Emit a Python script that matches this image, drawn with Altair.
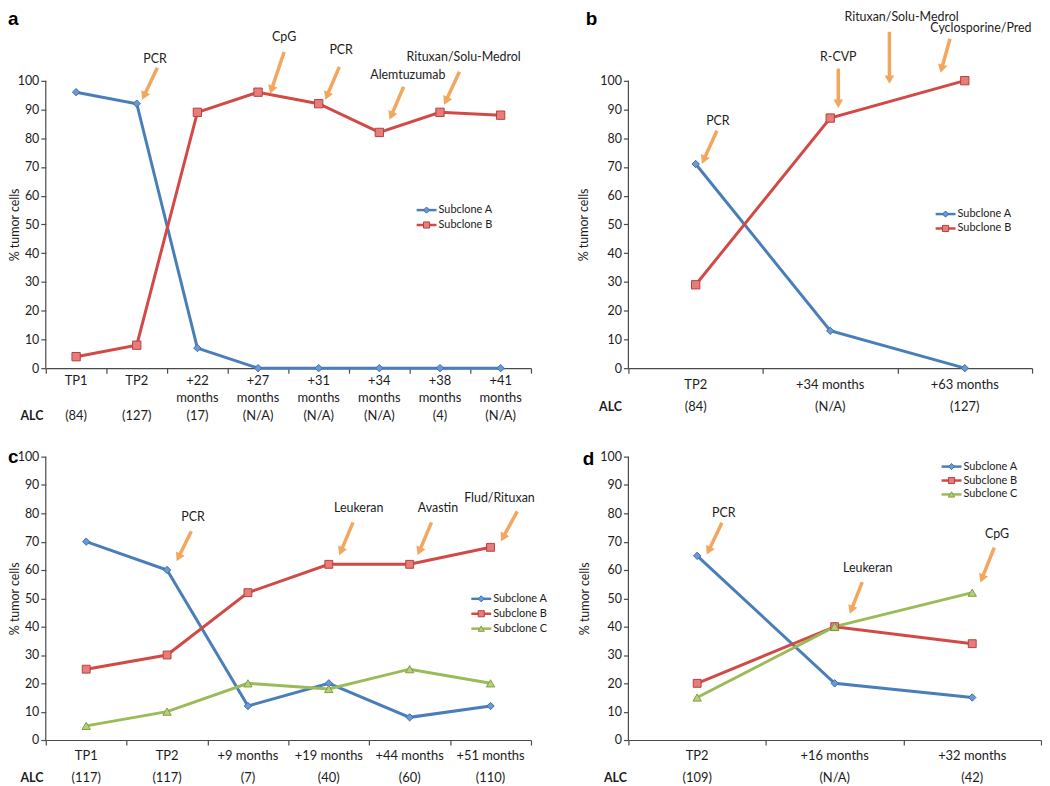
import math
import altair as alt
import pandas as pd

# ---------------- data ----------------
SERIES_NAMES = ["Subclone A", "Subclone B", "Subclone C"]

A_TIMEPOINTS = ["TP1", "TP2", "+22 months", "+27 months", "+31 months", "+34 months", "+38 months", "+41 months"]
A_ALC = ["(84)", "(127)", "(17)", "(N/A)", "(N/A)", "(N/A)", "(4)", "(N/A)"]
A_SUBCLONE_A = [96, 92, 7, 0, 0, 0, 0, 0]
A_SUBCLONE_B = [4, 8, 89, 96, 92, 82, 89, 88]
A_TREATMENTS = ["PCR", "CpG", "PCR", "Alemtuzumab", "Rituxan/Solu-Medrol"]

B_TIMEPOINTS = ["TP2", "+34 months", "+63 months"]
B_ALC = ["(84)", "(N/A)", "(127)"]
B_SUBCLONE_A = [71, 13, 0]
B_SUBCLONE_B = [29, 87, 100]
B_TREATMENTS = ["PCR", "R-CVP", "Rituxan/Solu-Medrol", "Cyclosporine/Pred"]

C_TIMEPOINTS = ["TP1", "TP2", "+9 months", "+19 months", "+44 months", "+51 months"]
C_ALC = ["(117)", "(117)", "(7)", "(40)", "(60)", "(110)"]
C_SUBCLONE_A = [70, 60, 12, 20, 8, 12]
C_SUBCLONE_B = [25, 30, 52, 62, 62, 68]
C_SUBCLONE_C = [5, 10, 20, 18, 25, 20]
C_TREATMENTS = ["PCR", "Leukeran", "Avastin", "Flud/Rituxan"]

D_TIMEPOINTS = ["TP2", "+16 months", "+32 months"]
D_ALC = ["(109)", "(N/A)", "(42)"]
D_SUBCLONE_A = [65, 20, 15]
D_SUBCLONE_B = [20, 40, 34]
D_SUBCLONE_C = [15, 40, 52]
D_TREATMENTS = ["PCR", "Leukeran", "CpG"]

# ---------------- annotation layout (label pos, arrow tail, arrow tip) ----------------
A_ANNOT_POS = [(1.80, 107.6, 1.84, 104.5, 1.59, 93.4),
               (3.93, 115.2, 3.93, 110.0, 3.70, 95.5),
               (4.87, 110.7, 4.84, 104.8, 4.61, 93.4),
               (5.97, 102.1, 5.90, 97.9, 5.67, 86.5),
               (6.89, 108.3, 6.82, 103.1, 6.57, 91.7)]
B_ANNOT_POS = [(0.665, 85.8, 0.658, 82.6, 0.547, 71.2),
               (1.56, 108.3, 1.56, 104.2, 1.56, 90.6),
               (2.03, 122.0, 1.94, 117.0, 1.94, 99.0),
               (2.62, 118.4, 2.39, 114.6, 2.32, 102.8)]
C_ANNOT_POS = [(1.82, 78.6, 1.80, 73.7, 1.62, 63.2),
               (3.87, 81.8, 3.80, 76.8, 3.63, 65.3),
               (4.85, 81.8, 4.77, 76.8, 4.60, 65.3),
               (5.61, 85.3, 5.83, 80.7, 5.63, 70.2)]
D_ANNOT_POS = [(0.694, 80.1, 0.68, 76.7, 0.571, 65.5),
               (1.74, 60.6, 1.70, 55.7, 1.61, 44.6),
               (2.68, 72.8, 2.66, 67.9, 2.56, 55.7)]

# ---------------- styles ----------------
FONT = "Lato"
TEXT = "#1c1c1c"
AXIS = "#4a4a4a"
ARROW = "#F3A65E"
LINE_COLORS = ["#4A7EBB", "#D24A46", "#9BBB59"]
FILL_COLORS = ["#6A9AD6", "#E67D7A", "#B5D07A"]
EDGE_COLORS = ["#3E6CA6", "#B8403D", "#7F9E42"]
SHAPES = ["diamond", "square", "triangle-up"]
SIZES = [55, 70, 75]


def make_panel(letter, cats, alc, series_vals, treatments, ann_pos, P):
    n = len(cats)
    k = len(series_vals)
    names = SERIES_NAMES[:k]
    recs = []
    for name, vals in zip(names, series_vals):
        for i, v in enumerate(vals):
            recs.append({"series": name, "subclone": name, "x": i + 0.5, "value": v})
    df = pd.DataFrame(recs)

    lab = pd.DataFrame({"x": [i + 0.5 for i in range(n)], "label": cats, "alc": alc, "zero": [0] * n})

    band = P["width"] / n
    ppu = P["height"] / P["ytop"]
    arecs = []
    for t, (tx, ty, x1, y1, x2, y2) in zip(treatments, ann_pos):
        dxp = (x2 - x1) * band
        dyp = -(y2 - y1) * ppu
        L = math.hypot(dxp, dyp)
        ux, uy = dxp / L, dyp / L
        back = 4.0
        hx = x2 - ux * back / band
        hy = y2 + uy * back / ppu
        ang = math.degrees(math.atan2(ux, -uy)) % 360
        arecs.append(dict(text=t, tx=tx, ty=ty, x1=x1, y1=y1, hx=hx, hy=hy, angle=ang))
    ann = pd.DataFrame(arecs)

    # legend rows: one per series, placed from the panel's legend anchor (pixels -> data units)
    cx, cy, step = P["legend"]
    lrecs = []
    for r, name in enumerate(names):
        yv = P["ytop"] - (cy + r * step) / ppu
        lrecs.append(dict(series=name, subclone=name, lx1=(cx - 10) / band, lx2=(cx + 10) / band,
                          lxm=cx / band, ltx=(cx + 12) / band, ly=yv))
    leg = pd.DataFrame(lrecs)

    frame = pd.DataFrame({"x0": [0], "y0": [0], "y100": [100], "ytop": [P["ytop"]],
                          "letter": [letter], "head": ["ALC"]})

    xscale = alt.Scale(domain=[0, n], nice=False, zero=False)
    yscale = alt.Scale(domain=[0, P["ytop"]], nice=False, zero=False)
    xaxis = alt.Axis(values=list(range(n + 1)), labels=False, title=None, grid=False,
                     tickSize=5, domainColor=AXIS, tickColor=AXIS, domainWidth=1.2, tickWidth=1.2)
    yaxis = alt.Axis(values=list(range(0, 101, 10)), grid=False, domain=False, tickSize=5,
                     tickColor=AXIS, tickWidth=1.2, labelFont=FONT, labelFontSize=12.5, labelColor=TEXT,
                     labelPadding=2, title="% tumor cells", titleFont=FONT, titleFontSize=12.5,
                     titleFontWeight="normal", titleColor=TEXT, titleX=P["titleX"], titleY=P["titleY"],
                     titleAngle=270, titleAlign="center", titleBaseline="middle")

    def X(f):
        return alt.X(f, type="quantitative", scale=xscale, axis=xaxis)

    def Y(f):
        return alt.Y(f, type="quantitative", scale=yscale, axis=yaxis)

    color = alt.Color("series:N", scale=alt.Scale(domain=names, range=LINE_COLORS[:k]), legend=None)
    fill = alt.Fill("subclone:N", scale=alt.Scale(domain=names, range=FILL_COLORS[:k]), legend=None)
    stroke = alt.Stroke("subclone:N", scale=alt.Scale(domain=names, range=EDGE_COLORS[:k]), legend=None)
    shape = alt.Shape("subclone:N", scale=alt.Scale(domain=names, range=SHAPES[:k]), legend=None)

    base = alt.Chart(df)
    line = base.mark_line(strokeWidth=3).encode(x=X("x"), y=Y("value"), color=color)
    pts = base.mark_point(filled=True, opacity=1, strokeWidth=1).encode(
        x=X("x"), y=Y("value"), fill=fill, stroke=stroke, shape=shape,
        size=alt.Size("subclone:N", scale=alt.Scale(domain=names, range=SIZES[:k]), legend=None),
    )

    lg = alt.Chart(leg)
    leg_line = lg.mark_rule(strokeWidth=2.5).encode(x=X("lx1"), x2="lx2:Q", y=Y("ly"), color=color)
    leg_pt = lg.mark_point(filled=True, opacity=1, strokeWidth=1, size=38).encode(
        x=X("lxm"), y=Y("ly"), fill=fill, stroke=stroke, shape=shape)
    leg_txt = lg.mark_text(font=FONT, fontSize=11, color=TEXT, align="left", baseline="middle").encode(
        x=X("ltx"), y=Y("ly"), text="series:N")

    achart = alt.Chart(ann)
    arrows = achart.mark_rule(strokeWidth=3.5, color=ARROW, strokeCap="butt").encode(
        x=X("x1"), y=Y("y1"), x2="hx:Q", y2="hy:Q")
    heads = achart.mark_point(shape="triangle-up", filled=True, size=95, color=ARROW, opacity=1).encode(
        x=X("hx"), y=Y("hy"), angle=alt.Angle("angle:Q", scale=None))
    atext = achart.mark_text(font=FONT, fontSize=12.5, color=TEXT, baseline="middle").encode(
        x=X("tx"), y=Y("ty"), text="text:N")

    lab_kw = dict(font=FONT, fontSize=13, color=TEXT, dy=P["label_dy"], baseline=P["label_baseline"])
    if P.get("lineBreak"):
        lab_kw.update(lineBreak=P["lineBreak"], lineHeight=17)
    lchart = alt.Chart(lab)
    xlabels = lchart.mark_text(**lab_kw).encode(x=X("x"), y=Y("zero"), text="label:N")
    alcvals = lchart.mark_text(font=FONT, fontSize=13, color=TEXT, dy=P["alc_dy"], baseline="middle").encode(
        x=X("x"), y=Y("zero"), text="alc:N")

    fchart = alt.Chart(frame)
    alchead = fchart.mark_text(font=FONT, fontSize=12.5, fontWeight="bold", color=TEXT,
                               dx=P["alc_dx"], dy=P["alc_dy"], baseline="middle").encode(
        x=X("x0"), y=Y("y0"), text="head:N")
    yrule = fchart.mark_rule(color=AXIS, strokeWidth=1.2).encode(x=X("x0"), y=Y("y0"), y2="y100:Q")
    letter_mark = fchart.mark_text(font="Liberation Sans", fontSize=19, fontWeight="bold", color="#000",
                                   align="left", baseline=P["letter_baseline"],
                                   dx=P["letter_dx"], dy=P["letter_dy"]).encode(
        x=X("x0"), y=Y(P["letter_field"]), text="letter:N")

    return alt.layer(line, pts, leg_line, leg_pt, leg_txt, arrows, heads, atext, yrule,
                     xlabels, alcvals, alchead, letter_mark).properties(width=P["width"], height=P["height"])


PA = dict(width=488, height=360, ytop=124.5, titleX=-31, titleY=215.4, legend=(383, 201, 15),
          label_dy=7, label_baseline="top", lineBreak=" ", alc_dy=48, alc_dx=-14,
          letter_baseline="top", letter_dx=-38, letter_dy=0, letter_field="ytop")
PB = dict(width=406, height=360, ytop=124.5, titleX=-45, titleY=215.4, legend=(319, 205, 14.5),
          label_dy=17, label_baseline="middle", alc_dy=39, alc_dx=-18,
          letter_baseline="top", letter_dx=-43, letter_dy=0, letter_field="ytop")
PC = dict(width=488, height=285, ytop=100, titleX=-31, titleY=142.5, legend=(438, 143, 15),
          label_dy=16, label_baseline="middle", alc_dy=38, alc_dx=-14,
          letter_baseline="alphabetic", letter_dx=-38, letter_dy=6, letter_field="y100")
PD = dict(width=415, height=285, ytop=100, titleX=-44, titleY=142.5, legend=(325, 10, 14),
          label_dy=16, label_baseline="middle", alc_dy=38, alc_dx=-13,
          letter_baseline="alphabetic", letter_dx=-46, letter_dy=8, letter_field="y100")

pa = make_panel("a", A_TIMEPOINTS, A_ALC, [A_SUBCLONE_A, A_SUBCLONE_B], A_TREATMENTS, A_ANNOT_POS, PA)
pb = make_panel("b", B_TIMEPOINTS, B_ALC, [B_SUBCLONE_A, B_SUBCLONE_B], B_TREATMENTS, B_ANNOT_POS, PB)
pc = make_panel("c", C_TIMEPOINTS, C_ALC, [C_SUBCLONE_A, C_SUBCLONE_B, C_SUBCLONE_C], C_TREATMENTS, C_ANNOT_POS, PC)
pd_ = make_panel("d", D_TIMEPOINTS, D_ALC, [D_SUBCLONE_A, D_SUBCLONE_B, D_SUBCLONE_C], D_TREATMENTS, D_ANNOT_POS, PD)

IND = dict(color="independent", fill="independent", stroke="independent", shape="independent", size="independent")

chart = (alt.concat(pa, pb, pc, pd_, columns=2, spacing={"row": 89, "column": 98}, bounds="flush")
         .resolve_scale(**IND)
         .configure_view(stroke=None)
         .properties(padding=0, background="white"))

chart.save("out.html", embed_options={"renderer": "svg", "actions": False})
